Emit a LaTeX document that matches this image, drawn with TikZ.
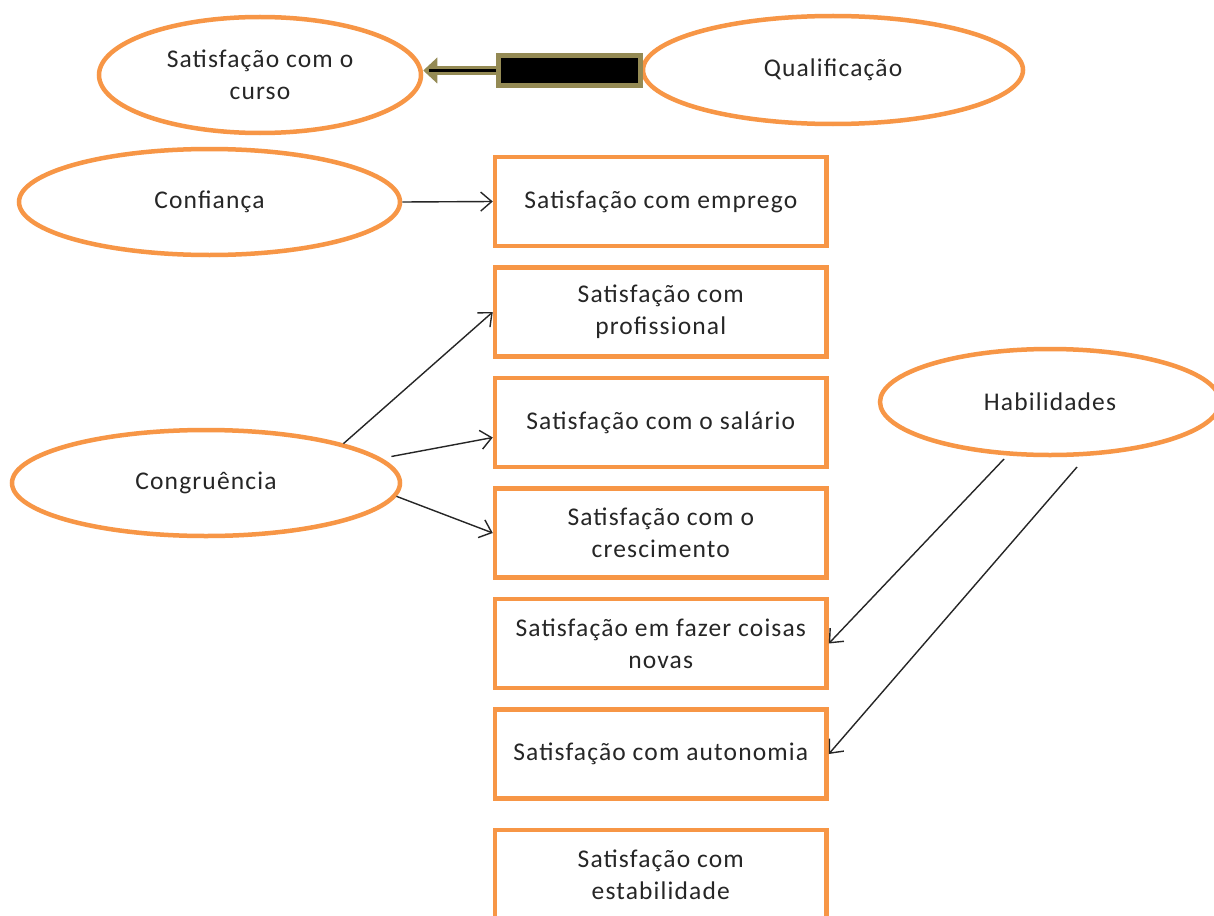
\documentclass[tikz,border=0pt]{standalone}
\usepackage{fontspec}
\setmainfont[LetterSpace=4.5]{Carlito}
\usetikzlibrary{arrows.meta,shapes.geometric,calc}
\definecolor{orng}{HTML}{F79646}
\definecolor{olivec}{RGB}{148,138,84}
\definecolor{txt}{HTML}{262626}
\begin{document}
\begin{tikzpicture}[x=1pt,y=-1pt,
  every node/.style={font=\fontsize{25.5}{32}\selectfont, text=txt, align=center},
  oval/.style={ellipse, draw=orng, line width=4.5pt, inner sep=0pt},
  sbox/.style={rectangle, draw=orng, line width=4.5pt, minimum width=331.5pt, minimum height=89pt, inner sep=0pt},
  conn/.style={draw=black!85, line width=1.4pt, -{Straight Barb[length=11pt,width=19pt]}}]
\clip (0,0) rectangle (1214,915);
\fill[white] (0,0) rectangle (1214,915);
% ellipses
\node[oval, minimum width=322pt, minimum height=116pt] (curso) at (260,75) {Satisfação com o\\curso};
\node[oval, minimum width=380pt, minimum height=108pt] (qual) at (833,70) {Qualificação};
\node[oval, minimum width=381pt, minimum height=106pt] (conf) at (209.5,202) {Confiança};
\node[oval, minimum width=388pt, minimum height=106pt] (cong) at (206,483) {Congruência};
\node[oval, minimum width=340pt, minimum height=106pt] (hab) at (1050,402) {Habilidades};
% boxes
\node[sbox] (b1) at (660.75,201.5) {Satisfação com emprego};
\node[sbox] (b2) at (660.75,312) {Satisfação com\\profissional};
\node[sbox] (b3) at (660.75,422.5) {Satisfação com o salário};
\node[sbox] (b4) at (660.75,533) {Satisfação com o\\crescimento};
\node[sbox] (b5) at (660.75,643.5) {Satisfação em fazer coisas\\novas};
\node[sbox] (b6) at (660.75,754) {Satisfação com autonomia};
\node[sbox] (b7) at (660.75,874.5) {Satisfação com\\estabilidade};
% thick arrow
\node[rectangle, fill=black, draw=olivec, line width=5pt, minimum width=142pt, minimum height=30pt, inner sep=0pt] (blk) at (569.5,70.5) {};
\coordinate (tip) at (blk.west -| curso.east);
\draw[olivec, line width=9pt, -{Triangle[length=14pt,width=26pt,line width=0pt]}] (blk.west) -- (tip);
\draw[black, line width=2.5pt] (blk.west) -- ($(tip)+(6,0)$);
% connectors
\draw[conn] (conf.east) -- (b1.west);
\draw[conn] (cong.16) -- (b2.west);
\draw[conn, shorten <=10pt] (cong.8) -- ($(b3.west)+(0,15)$);
\draw[conn] (cong.-4.6) -- (b4.west);
\coordinate (h1) at ($(hab.center)+(-46,57)$);
\coordinate (h2) at ($(hab.center)+(27,65)$);
\draw[conn] (h1) -- (b5.east);
\draw[conn] (h2) -- (b6.east);
\end{tikzpicture}
\end{document}
